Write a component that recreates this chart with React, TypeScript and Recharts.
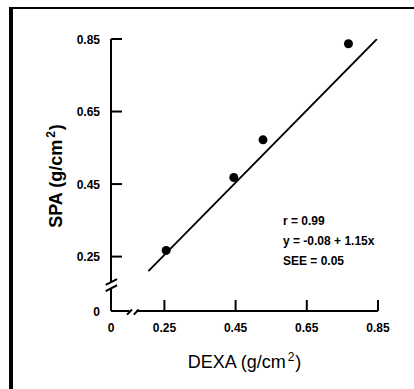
import React from "react";
import {
  ScatterChart,
  Scatter,
  XAxis,
  YAxis,
  ReferenceLine,
} from "recharts";

// DEXA vs SPA measurements (g/cm2)
const dexa = [0.255, 0.445, 0.527, 0.767];
const spa = [0.267, 0.468, 0.572, 0.837];

// fitted line endpoints as drawn
const fitX = [0.205, 0.847];
const fitY = [0.21, 0.85];

// axes are broken: the bottom/left value 0.1 is drawn as "0"
const AXIS_MIN = 0.1;
const tickValues = [0.1, 0.25, 0.45, 0.65, 0.85];
const tickLabels = ["0", "0.25", "0.45", "0.65", "0.85"];

const statsLines = ["r = 0.99", "y = -0.08 + 1.15x", "SEE = 0.05"];

const points = dexa.map((x, i) => ({ x, y: spa[i] }));
const fitLine = fitX.map((x, i) => ({ x, y: fitY[i] }));

const FONT = "'Liberation Sans', Arial, Helvetica, sans-serif";
const tickText = (v: number) => tickLabels[tickValues.indexOf(v)] ?? String(v);

function XTick(props: any) {
  const { x, y, payload } = props;
  return (
    <g>
      {payload.value !== AXIS_MIN && (
        <line x1={x} x2={x} y1={y} y2={y - 11} stroke="#000" strokeWidth={2} />
      )}
      <text
        x={x}
        y={y + 21}
        textAnchor="middle"
        fontSize={12}
        fontWeight="bold"
        fontFamily={FONT}
        fill="#000"
      >
        {tickText(payload.value)}
      </text>
    </g>
  );
}

function YTick(props: any) {
  const { x, y, payload } = props;
  return (
    <g>
      {payload.value !== AXIS_MIN && (
        <line x1={x} x2={x + 11} y1={y} y2={y} stroke="#000" strokeWidth={2} />
      )}
      <text
        x={x - 11}
        y={y + 4.5}
        textAnchor="end"
        fontSize={12}
        fontWeight="bold"
        fontFamily={FONT}
        fill="#000"
      >
        {tickText(payload.value)}
      </text>
    </g>
  );
}

function XTitle(props: any) {
  const { viewBox } = props;
  const cx = viewBox.x + viewBox.width / 2;
  return (
    <text
      x={cx}
      y={368}
      textAnchor="middle"
      fontSize={18}
      fontFamily={FONT}
      fill="#000"
    >
      DEXA (g/cm
      <tspan dx={2} dy={-7} fontSize={12}>2</tspan>
      <tspan dx={1} dy={7}>)</tspan>
    </text>
  );
}

function YTitle(props: any) {
  const { viewBox } = props;
  const cy = viewBox.y + viewBox.height / 2;
  return (
    <text
      x={0}
      y={0}
      transform={`translate(62, ${cy + 1}) rotate(-90)`}
      textAnchor="middle"
      fontSize={18}
      fontWeight="bold"
      fontFamily={FONT}
      fill="#000"
    >
      SPA (g/cm
      <tspan dx={2} dy={-7} fontSize={12}>2</tspan>
      <tspan dx={1} dy={7}>)</tspan>
    </text>
  );
}

const axisStroke = { stroke: "#000", strokeWidth: 2 };

export default function App() {
  return (
    <div style={{ position: "absolute", left: 0, top: 0, width: 414, height: 389, background: "#fff" }}>
      <div
        style={{
          position: "absolute",
          left: 9,
          top: 7,
          width: 405,
          height: 382,
          borderLeft: "4px solid #000",
          borderTop: "2px solid #000",
          boxSizing: "border-box",
        }}
      />
      <ScatterChart
        width={414}
        height={389}
        margin={{ top: 39, right: 36, bottom: 48, left: 51 }}
        style={{ position: "absolute", left: 0, top: 0 }}
      >
        <XAxis
          type="number"
          dataKey="x"
          domain={[AXIS_MIN, 0.85]}
          ticks={tickValues}
          axisLine={false}
          tickLine={false}
          tickSize={0}
          tickMargin={0}
          height={30}
          tick={<XTick />}
          label={<XTitle />}
          allowDataOverflow
        />
        <YAxis
          type="number"
          dataKey="y"
          domain={[AXIS_MIN, 0.85]}
          ticks={tickValues}
          axisLine={false}
          tickLine={false}
          tickSize={0}
          tickMargin={0}
          width={60}
          tick={<YTick />}
          label={<YTitle />}
          allowDataOverflow
        />

        {/* broken y axis */}
        <ReferenceLine segment={[{ x: AXIS_MIN, y: 0.85 }, { x: AXIS_MIN, y: 0.18 }]} ifOverflow="visible" {...axisStroke} />
        <ReferenceLine segment={[{ x: 0.085, y: 0.172 }, { x: 0.117, y: 0.188 }]} ifOverflow="visible" {...axisStroke} />
        <ReferenceLine segment={[{ x: 0.085, y: 0.155 }, { x: 0.117, y: 0.171 }]} ifOverflow="visible" {...axisStroke} />
        <ReferenceLine segment={[{ x: AXIS_MIN, y: 0.163 }, { x: AXIS_MIN, y: AXIS_MIN }]} ifOverflow="visible" {...axisStroke} />

        {/* broken x axis */}
        <ReferenceLine segment={[{ x: AXIS_MIN, y: AXIS_MIN }, { x: 0.152, y: AXIS_MIN }]} ifOverflow="visible" {...axisStroke} />
        <ReferenceLine segment={[{ x: 0.145, y: 0.09 }, { x: 0.159, y: 0.104 }]} ifOverflow="visible" {...axisStroke} />
        <ReferenceLine segment={[{ x: 0.164, y: 0.09 }, { x: 0.178, y: 0.104 }]} ifOverflow="visible" {...axisStroke} />
        <ReferenceLine segment={[{ x: 0.171, y: AXIS_MIN }, { x: 0.85, y: AXIS_MIN }]} ifOverflow="visible" {...axisStroke} />

        <Scatter
          data={fitLine}
          line={{ stroke: "#000", strokeWidth: 1.8 }}
          shape={() => <g />}
          isAnimationActive={false}
        />
        <Scatter
          data={points}
          fill="#000"
          shape={(p: any) => <circle cx={p.cx} cy={p.cy} r={4.5} fill="#000" />}
          isAnimationActive={false}
        />
      </ScatterChart>
      <div
        style={{
          position: "absolute",
          left: 283,
          top: 211,
          fontFamily: FONT,
          fontSize: 12,
          fontWeight: "bold",
          lineHeight: "20px",
          color: "#000",
          whiteSpace: "nowrap",
        }}
      >
        {statsLines.map((s) => (
          <div key={s}>{s}</div>
        ))}
      </div>
    </div>
  );
}
